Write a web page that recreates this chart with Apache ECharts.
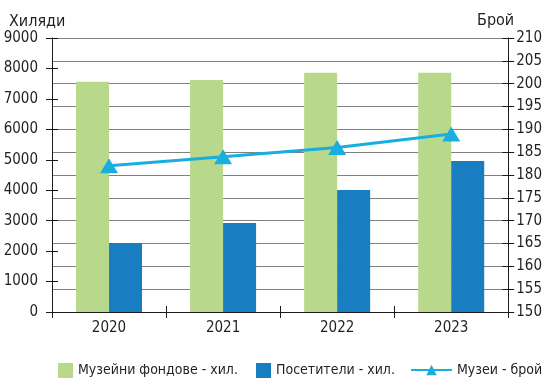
<!DOCTYPE html>
<html>
<head>
<meta charset="utf-8">
<script src="https://cdn.jsdelivr.net/npm/echarts@6/dist/echarts.min.js"></script>
<style>
  html, body { margin: 0; padding: 0; background: #fff; }
  #chart { width: 545px; height: 381px; }
</style>
</head>
<body>
<div id="chart"></div>
<script>
// Музейна статистика по години
const years = ['2020', '2021', '2022', '2023'];
const fundsThousands = [7560, 7620, 7860, 7860];    // Музейни фондове - хил.
const visitorsThousands = [2270, 2920, 4010, 4960]; // Посетители - хил.
const museumCount = [182, 184, 186, 189];           // Музеи - брой

const leftTicks = { min: 0, max: 9000, interval: 1000 };
const rightTicks = { min: 150, max: 210, interval: 5 };

const FONT = '"DejaVu Sans Condensed", "Liberation Sans Narrow", sans-serif';
const TEXT = '#231f20';
const GREEN = '#b8d98b';
const BLUE = '#187dc1';
const CYAN = '#18afe0';

const chart = echarts.init(document.getElementById('chart'), null, { renderer: 'canvas' });

const axisLine = { show: true, lineStyle: { color: '#1a1a1a', width: 1 } };
const tickOut = { show: true, inside: false, length: 6, lineStyle: { color: '#1a1a1a', width: 1 } };
const tickIn = { show: true, inside: true, length: 6, lineStyle: { color: '#1a1a1a', width: 1 } };
const plain = (v) => String(v);
const legendText = { fontFamily: FONT, fontSize: 14, color: TEXT };

chart.setOption({
  animation: false,
  textStyle: { fontFamily: FONT, color: TEXT },
  title: [
    { text: 'Хиляди', left: 4, top: 9, textStyle: { fontFamily: FONT, fontSize: 16, fontWeight: 'normal', color: TEXT } },
    { text: 'Брой', left: 472, top: 8, textStyle: { fontFamily: FONT, fontSize: 16, fontWeight: 'normal', color: TEXT } }
  ],
  grid: { left: 52, right: 35, top: 38, bottom: 69, containLabel: false },
  legend: [
    {
      data: [{ name: 'Музейни фондове - хил.', icon: 'rect' }],
      left: 53, top: 358, itemWidth: 15, itemHeight: 15, textStyle: legendText
    },
    {
      data: [{ name: 'Посетители - хил.', icon: 'rect' }],
      left: 251, top: 358, itemWidth: 15, itemHeight: 15, textStyle: legendText
    },
    {
      data: ['Музеи - брой'],
      left: 405, top: 358, itemWidth: 41, itemHeight: 13, textStyle: legendText
    }
  ],
  xAxis: [
    {
      type: 'category', data: years, position: 'bottom',
      axisLine: axisLine, axisTick: tickOut,
      axisLabel: { fontFamily: FONT, fontSize: 15, color: TEXT, margin: 9 },
      splitLine: { show: false }
    },
    {
      type: 'category', data: years, position: 'bottom',
      axisLine: { show: false }, axisTick: tickIn,
      axisLabel: { show: false }, splitLine: { show: false }
    }
  ],
  yAxis: [
    {
      type: 'value', position: 'left', min: leftTicks.min, max: leftTicks.max, interval: leftTicks.interval,
      axisLine: axisLine, axisTick: tickOut,
      axisLabel: { fontFamily: FONT, fontSize: 15, color: TEXT, margin: 14, formatter: plain },
      splitLine: { show: false }
    },
    {
      type: 'value', position: 'right', min: rightTicks.min, max: rightTicks.max, interval: rightTicks.interval,
      axisLine: axisLine, axisTick: tickOut,
      axisLabel: { fontFamily: FONT, fontSize: 15, color: TEXT, margin: 8, formatter: plain },
      splitLine: { show: true, lineStyle: { color: '#808080', width: 1 } }
    },
    {
      type: 'value', position: 'left', min: leftTicks.min, max: leftTicks.max, interval: leftTicks.interval,
      axisLine: { show: false }, axisTick: tickIn, axisLabel: { show: false }, splitLine: { show: false }
    },
    {
      type: 'value', position: 'right', min: rightTicks.min, max: rightTicks.max, interval: rightTicks.interval,
      axisLine: { show: false }, axisTick: tickIn, axisLabel: { show: false }, splitLine: { show: false }
    }
  ],
  series: [
    {
      name: 'Музейни фондове - хил.', type: 'bar', yAxisIndex: 0, data: fundsThousands,
      barWidth: 33, barGap: '0%', itemStyle: { color: GREEN }, z: 2
    },
    {
      name: 'Посетители - хил.', type: 'bar', yAxisIndex: 0, data: visitorsThousands,
      barWidth: 33, barGap: '0%', itemStyle: { color: BLUE }, z: 2
    },
    {
      name: 'Музеи - брой', type: 'line', yAxisIndex: 1, data: museumCount,
      symbol: 'triangle', symbolSize: [18, 15], showSymbol: true,
      lineStyle: { color: CYAN, width: 3 }, itemStyle: { color: CYAN }, z: 5
    }
  ]
});
</script>
</body>
</html>
